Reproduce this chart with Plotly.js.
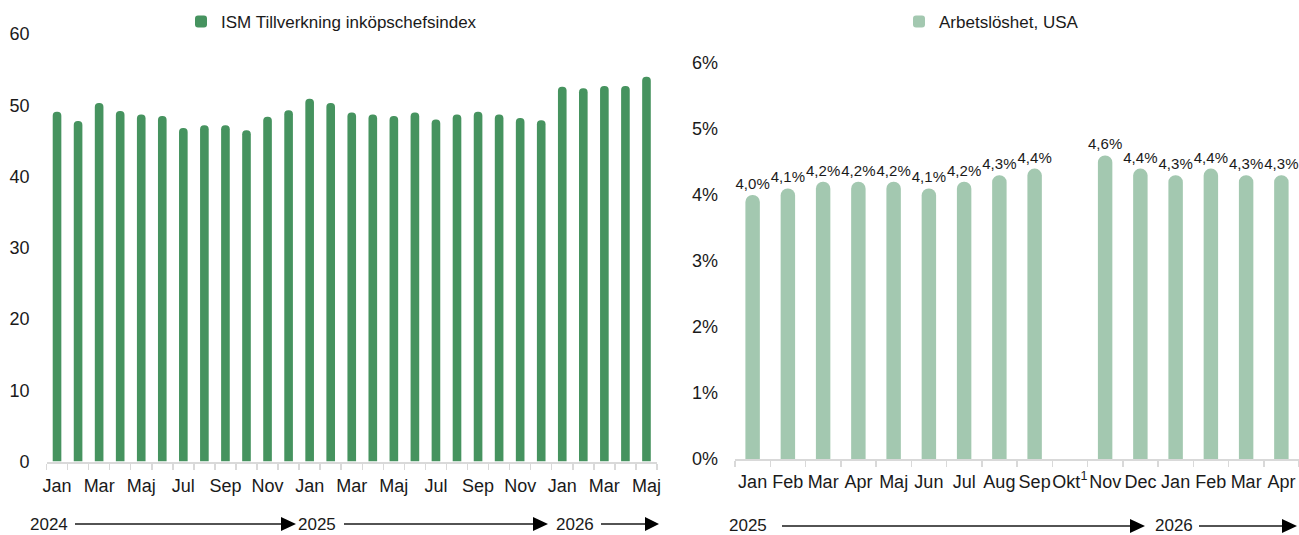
<!DOCTYPE html>
<html><head><meta charset="utf-8">
<script src="https://cdn.plot.ly/plotly-3.0.1.min.js"></script>
<style>html,body{margin:0;padding:0;background:#fff;overflow:hidden}</style>
</head><body><div id="chart" style="width:1299px;height:535px"></div>
<script>
// ---------- DATA ----------
const ismCategories = [
  "2024-01","2024-02","2024-03","2024-04","2024-05","2024-06","2024-07","2024-08","2024-09","2024-10","2024-11","2024-12",
  "2025-01","2025-02","2025-03","2025-04","2025-05","2025-06","2025-07","2025-08","2025-09","2025-10","2025-11","2025-12",
  "2026-01","2026-02","2026-03","2026-04","2026-05"];
const ismTickLabels = [
  "Jan","","Mar","","Maj","","Jul","","Sep","","Nov","",
  "Jan","","Mar","","Maj","","Jul","","Sep","","Nov","",
  "Jan","","Mar","","Maj"];
const ismValues = [
  49.1,47.8,50.3,49.2,48.7,48.5,46.8,47.2,47.2,46.5,48.4,49.3,
  50.9,50.3,49.0,48.7,48.5,49.0,48.0,48.7,49.1,48.7,48.2,47.9,
  52.6,52.4,52.7,52.7,54.0];
const ismSeriesName = "ISM Tillverkning inköpschefsindex";

const unempCategories = [
  "2025-01","2025-02","2025-03","2025-04","2025-05","2025-06","2025-07","2025-08","2025-09","2025-10","2025-11","2025-12",
  "2026-01","2026-02","2026-03","2026-04"];
const unempTickLabels = ["Jan","Feb","Mar","Apr","Maj","Jun","Jul","Aug","Sep","Okt<sup>1</sup>","Nov","Dec","Jan","Feb","Mar","Apr"];
const unempValues = [4.0,4.1,4.2,4.2,4.2,4.1,4.2,4.3,4.4,null,4.6,4.4,4.3,4.4,4.3,4.3];
const unempSeriesName = "Arbetslöshet, USA";

const leftYears = ["2024","2025","2026"];
const rightYears = ["2025","2026"];

// ---------- STYLE ----------
const W = 1299, H = 535;
const FONT = '"Liberation Sans Narrow","Arial Narrow","Liberation Sans",Arial,sans-serif';
const TXT = '#1a1a1a';
const AX = '#d9d9d9';
const px = x => x / W;
const py = y => 1 - y / H;

const unempText = unempValues.map(v => v == null ? '' : v.toFixed(1).replace('.', ',') + '%');

const traces = [
  {type:'bar', x: ismCategories, y: ismValues, name: ismSeriesName, xaxis:'x', yaxis:'y',
   marker:{color:'#46935F', cornerradius:'50%'}, legend:'legend', hoverinfo:'y'},
  {type:'bar', x: unempCategories, y: unempValues, name: unempSeriesName, xaxis:'x2', yaxis:'y2',
   marker:{color:'#A3C8B0', cornerradius:'50%'}, legend:'legend2',
   text: unempText, textposition:'outside', cliponaxis:false, constraintext:'none',
   textfont:{family:FONT, size:15, color:TXT}, hoverinfo:'y'}
];

const xCommon = {
  type:'category', tickson:'boundaries', ticks:'outside', ticklen:6, tickcolor:AX, tickwidth:1.5,
  showline:true, linecolor:AX, linewidth:2, showgrid:false, zeroline:false,
  tickfont:{family:FONT, size:18, color:TXT}, tickangle:0, fixedrange:true
};
const yCommon = {
  showline:false, showgrid:false, zeroline:false, ticks:'',
  tickfont:{family:FONT, size:18, color:TXT}, fixedrange:true
};

const shapes = [];
const annotations = [];
function yearArrow(x0, xBase, xTip, y) {
  shapes.push({type:'line', xref:'paper', yref:'paper', x0:px(x0), x1:px(xBase+1), y0:py(y), y1:py(y),
    line:{color:TXT, width:1.5}});
  shapes.push({type:'path', xref:'paper', yref:'paper',
    path:`M ${px(xBase)} ${py(y-7)} L ${px(xTip)} ${py(y)} L ${px(xBase)} ${py(y+7)} Z`,
    fillcolor:'#000', line:{width:0}});
}
function yearLabel(text, xc, y) {
  annotations.push({xref:'paper', yref:'paper', x:px(xc), y:py(y), text:text, showarrow:false,
    xanchor:'center', yanchor:'middle', font:{family:FONT, size:17, color:TXT}});
}
// left panel
yearLabel(leftYears[0], 48.5, 524); yearArrow(75, 281, 296, 524);
yearLabel(leftYears[1], 316.5, 524); yearArrow(344, 533, 548, 524);
yearLabel(leftYears[2], 575, 524); yearArrow(601, 645, 659, 524);
// right panel
yearLabel(rightYears[0], 748, 525); yearArrow(782, 1130, 1145, 526);
yearLabel(rightYears[1], 1174, 525); yearArrow(1199, 1282, 1297, 526);

const layout = {
  width:W, height:H, margin:{l:0,r:0,t:0,b:0}, paper_bgcolor:'#fff', plot_bgcolor:'rgba(0,0,0,0)',
  bargap:0.59, showlegend:true,
  xaxis: Object.assign({}, xCommon, {domain:[px(46.5), px(657)], anchor:'y',
    tickmode:'array', tickvals: ismCategories, ticktext: ismTickLabels, ticklabelstandoff:7}),
  yaxis: Object.assign({}, yCommon, {domain:[py(461.5), py(34)], range:[0,60], dtick:10, anchor:'x', ticklabelstandoff:16}),
  xaxis2: Object.assign({}, xCommon, {domain:[px(735), px(1299)], anchor:'y2',
    tickmode:'array', tickvals: unempCategories, ticktext: unempTickLabels, ticklabelstandoff:5}),
  yaxis2: Object.assign({}, yCommon, {domain:[py(459), py(63)], range:[0,6], dtick:1, anchor:'x2',
    ticksuffix:'%', ticklabelstandoff:16}),
  legend:{x:px(181), y:py(22), xanchor:'left', yanchor:'middle', orientation:'h', bgcolor:'rgba(0,0,0,0)',
    font:{family:FONT, size:17, color:TXT}, itemwidth:30},
  legend2:{x:px(899), y:py(22), xanchor:'left', yanchor:'middle', orientation:'h', bgcolor:'rgba(0,0,0,0)',
    font:{family:FONT, size:17, color:TXT}, itemwidth:30},
  shapes: shapes, annotations: annotations
};

Plotly.newPlot('chart', traces, layout, {displayModeBar:false, staticPlot:true});
</script>
</body></html>
